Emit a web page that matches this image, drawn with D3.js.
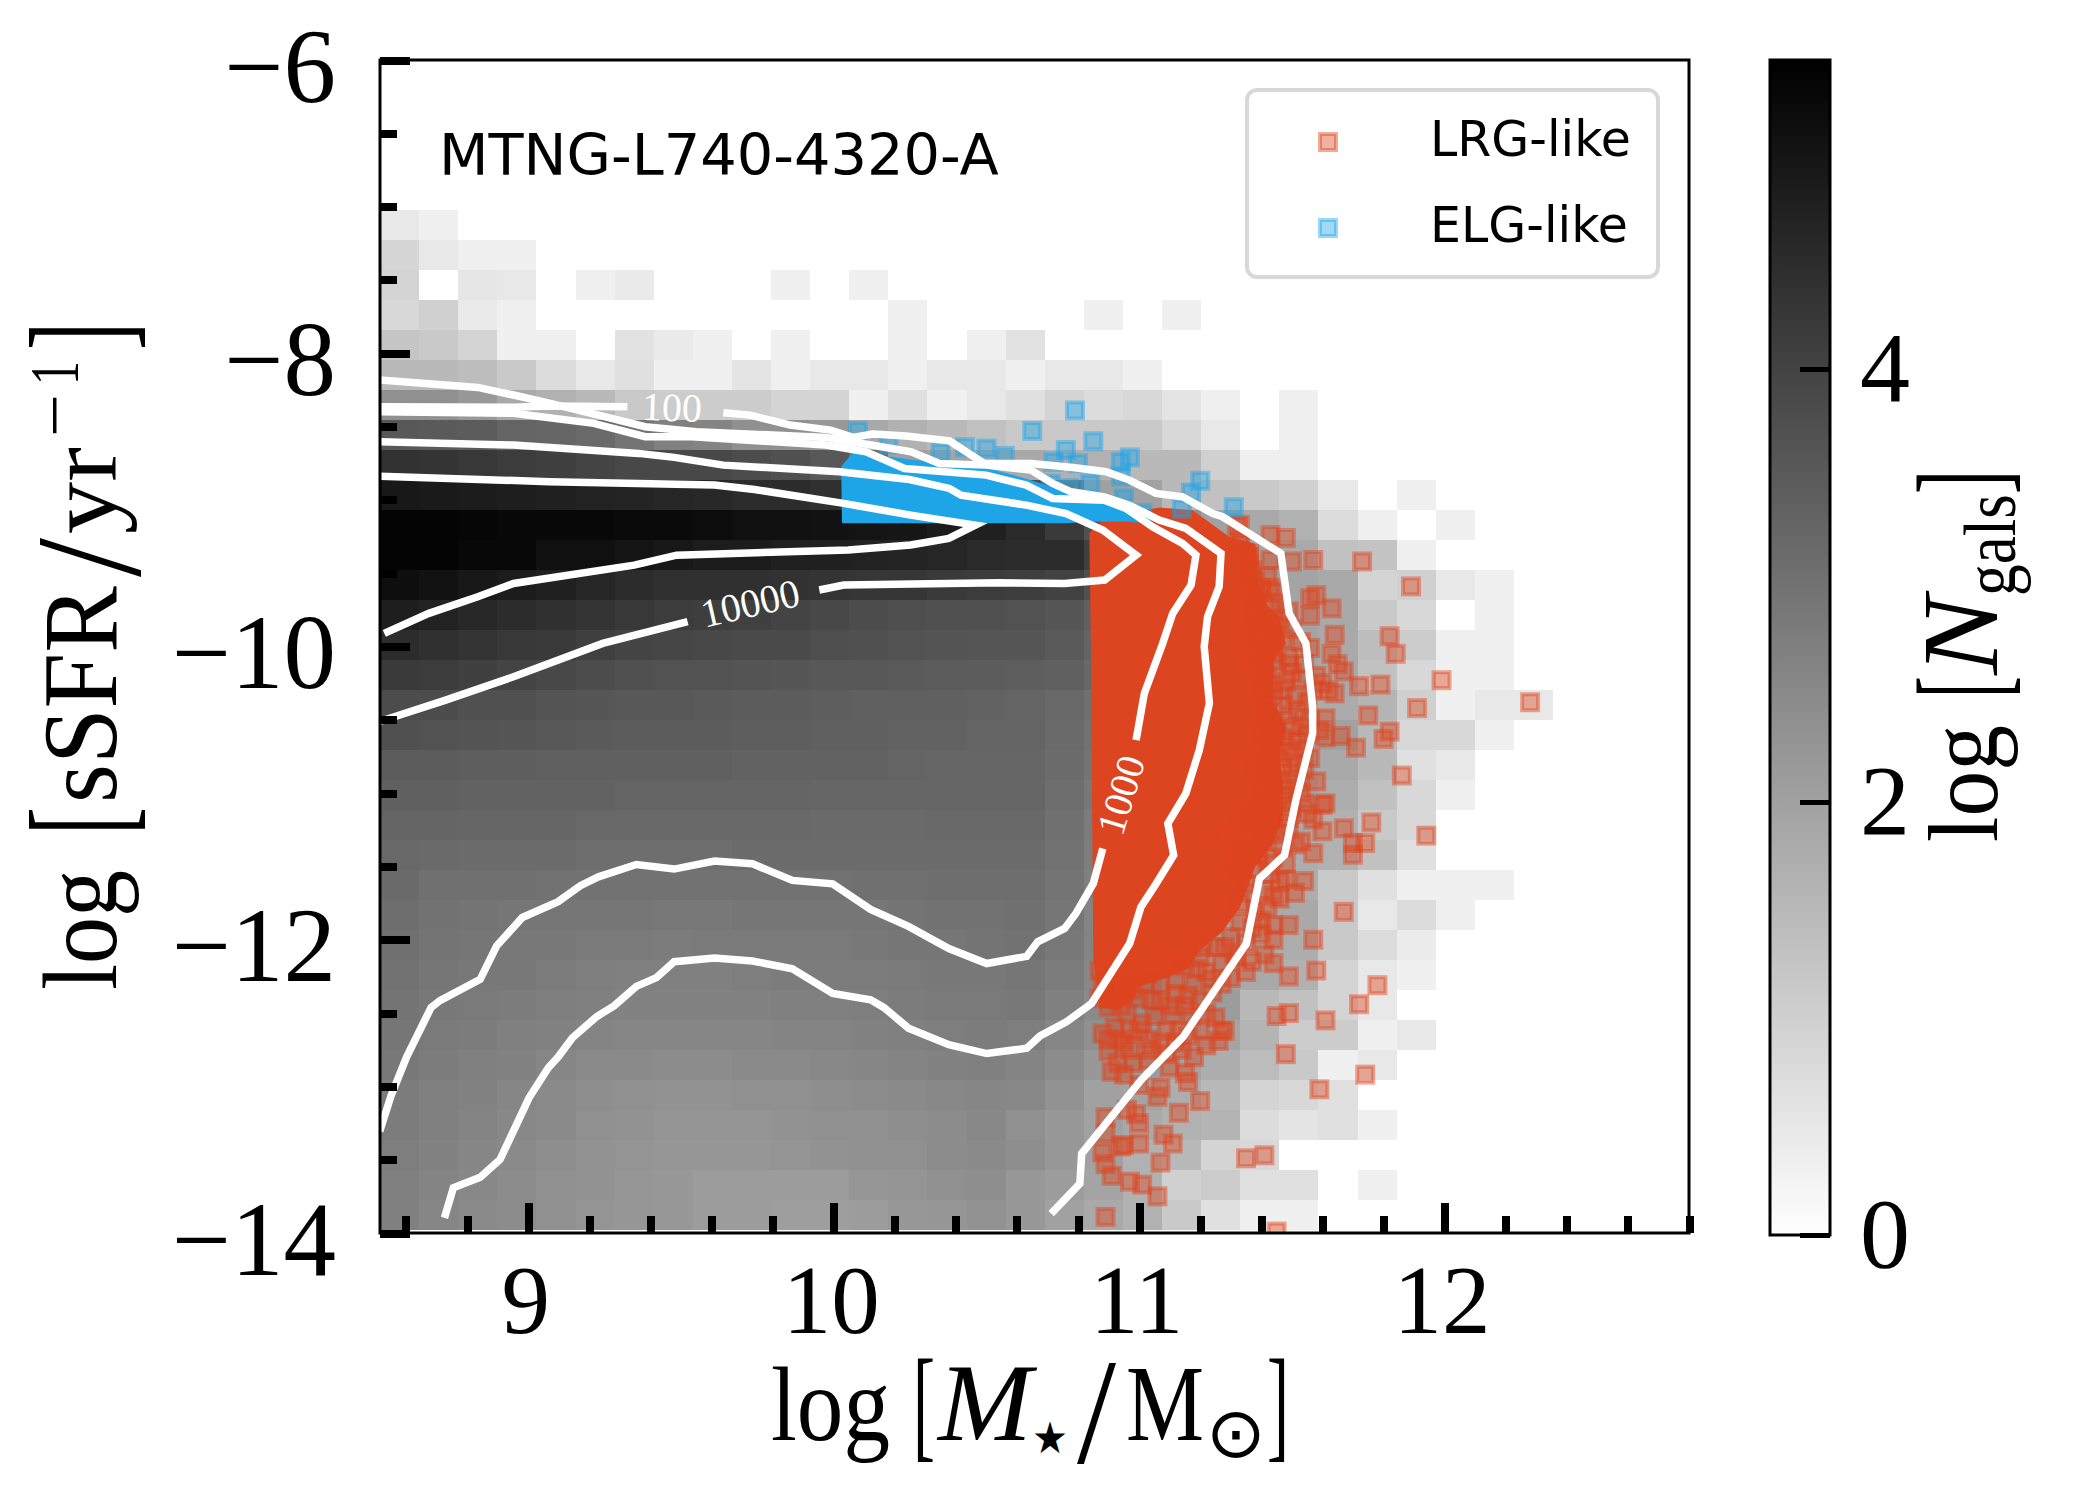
<!DOCTYPE html>
<html>
<head>
    <meta charset="utf-8">
    <script src="https://d3js.org/d3.v7.min.js"></script>
    <style>
        body { margin: 0; background: #fff; }
        text { font-family: "Liberation Serif", serif; fill: #000; }
        text.sans { font-family: "DejaVu Sans", sans-serif; }
        .tick line { stroke: #000; stroke-width: 8; shape-rendering: crispEdges; }
        path.domain { display: none; }
    </style>
</head>
<body>
    <div id="chart"></div>
    <script>
        // ---- data ----
        var simName = "MTNG-L740-4320-A";
        var legendNames = ["LRG-like", "ELG-like"];

        var xMajorTicks = [9, 10, 11, 12];
        var xMinorTicks = [8.6, 8.8, 9.2, 9.4, 9.6, 9.8, 10.2, 10.4, 10.6, 10.8, 11.2, 11.4, 11.6, 11.8, 12.2, 12.4, 12.6, 12.8];
        var yMajorTicks = [-6, -8, -10, -12, -14];
        var yMinorTicks = [-6.5, -7, -7.5, -8.5, -9, -9.5, -10.5, -11, -11.5, -12.5, -13, -13.5];
        var cbarTicks = [0, 2, 4];

        // histogram bins: left edge / top edge and bin widths
        var histX0 = 8.515, histDx = 0.128, histY0 = -7.023, histDy = 0.2046;

        // log N per bin, one row per sSFR bin from the top, 0 = empty
        var histRows = [
            [.49, .32],
            [.87, .49, .32, .32],
            [.92, 0, .53, .49, 0, .32, .45, 0, 0, 0, .32, 0, .32],
            [.83, 1.0, .45, .32, 0, 0, 0, 0, 0, 0, 0, 0, 0, .32, 0, 0, 0, 0, .32, 0, .32],
            [1.23, 1.15, .92, .32, .32, 0, .62, .45, .32, 0, .32, 0, 0, .32, 0, .32, .62],
            [1.49, 1.49, 1.4, 1.15, .75, .49, .66, .32, .32, .57, .32, .49, .49, .32, .49, .49, .32, .49, .49, .32],
            [2.36, 2.36, 2.19, 1.83, 1.66, 1.49, 1.15, 1.08, 1.08, 1.08, .92, .92, .32, .66, .32, .49, .66, .92, .75, .83, .57, .32, 0, .32],
            [3.56, 3.51, 3.47, 3.3, 3.26, 3.17, 2.96, 2.7, 2.62, 2.36, 2.36, 2.19, 1.83, 1.66, 1.49, 1.32, 1.15, 1.15, 1.15, 1.15, .83, .49, 0, .32],
            [4.37, 4.32, 4.24, 4.15, 4.07, 3.98, 3.9, 3.9, 3.9, 3.81, 3.73, 3.56, 3.05, 2.0, 1.93, 1.83, 1.83, 1.66, 1.66, 1.49, 1.49, 1.0, .32, .32],
            [4.92, 4.88, 4.83, 4.79, 4.75, 4.71, 4.66, 4.62, 4.58, 4.49, 4.49, 4.41, 4.41, 4.32, 4.24, 4.07, 3.73, 3.05, 2.0, 2.0, 1.49, 1.32, 1.15, 1.0, .49, 0, .32],
            [5.34, 5.34, 5.3, 5.26, 5.26, 5.26, 5.22, 5.22, 5.17, 5.09, 5.09, 5.05, 5.0, 4.96, 4.83, 4.75, 4.54, 4.19, 3.73, 3.05, 2.36, 2.0, 1.83, 1.66, .75, .32, 0, .32],
            [5.34, 5.34, 5.26, 5.26, 5.09, 5.09, 5.0, 4.92, 4.83, 4.83, 4.75, 4.75, 4.71, 4.66, 4.62, 4.54, 4.49, 4.49, 4.07, 3.39, 2.7, 2.19, 1.93, 1.83, 1.32, 1.25, .32],
            [5.13, 5.05, 4.92, 4.83, 4.75, 4.62, 4.49, 4.41, 4.41, 4.41, 4.37, 4.32, 4.28, 4.28, 4.19, 4.15, 4.11, 4.02, 3.73, 3.22, 2.7, 2.36, 2.0, 1.93, 1.83, .92, 1.0, .49, .32],
            [4.79, 4.71, 4.58, 4.49, 4.41, 4.32, 4.24, 4.15, 4.11, 4.07, 3.98, 3.9, 3.81, 3.77, 3.73, 3.73, 3.68, 3.6, 3.39, 3.05, 2.7, 2.36, 2.0, 1.93, 1.83, 1.15, .83, 0, .32],
            [4.49, 4.41, 4.32, 4.24, 4.19, 4.07, 3.98, 3.94, 3.9, 3.85, 3.85, 3.77, 3.73, 3.68, 3.64, 3.6, 3.6, 3.51, 3.3, 3.0, 2.62, 2.28, 2.0, 1.93, 1.83, 1.4, 1.08, .32, .32],
            [4.19, 4.15, 4.07, 3.98, 3.9, 3.81, 3.73, 3.68, 3.68, 3.64, 3.6, 3.56, 3.56, 3.51, 3.47, 3.47, 3.43, 3.39, 3.22, 2.96, 2.62, 2.28, 2.0, 1.93, 1.83, 1.32, .83, .32, .32],
            [3.81, 3.81, 3.73, 3.73, 3.64, 3.6, 3.56, 3.56, 3.51, 3.47, 3.47, 3.43, 3.39, 3.39, 3.39, 3.34, 3.3, 3.22, 3.05, 2.87, 2.53, 2.19, 2.0, 1.93, 1.79, 1.6, 1.0, .32, .49, .49],
            [3.73, 3.68, 3.64, 3.6, 3.56, 3.51, 3.47, 3.47, 3.47, 3.43, 3.43, 3.39, 3.39, 3.34, 3.34, 3.3, 3.3, 3.17, 3.0, 2.79, 2.49, 2.19, 2.0, 1.93, 2.0, 1.49, .83, .83, .32],
            [3.47, 3.47, 3.43, 3.43, 3.39, 3.39, 3.39, 3.39, 3.39, 3.34, 3.34, 3.34, 3.34, 3.3, 3.26, 3.26, 3.26, 3.13, 2.96, 2.7, 2.45, 2.19, 2.0, 1.93, 1.83, 1.49, .66, .49],
            [3.39, 3.39, 3.34, 3.34, 3.34, 3.34, 3.3, 3.3, 3.3, 3.3, 3.3, 3.26, 3.26, 3.26, 3.26, 3.26, 3.26, 3.09, 2.87, 2.62, 2.36, 2.19, 2.0, 1.93, 1.75, 1.32, .83, .32],
            [3.3, 3.3, 3.26, 3.26, 3.26, 3.22, 3.22, 3.22, 3.22, 3.22, 3.22, 3.17, 3.17, 3.17, 3.22, 3.22, 3.22, 3.05, 2.79, 2.53, 2.28, 2.0, 1.93, 1.83, 1.66, 1.15, .83],
            [3.22, 3.17, 3.13, 3.13, 3.13, 3.09, 3.09, 3.09, 3.09, 3.13, 3.13, 3.13, 3.13, 3.13, 3.13, 3.13, 3.13, 3.0, 2.75, 2.45, 2.19, 1.93, 1.83, 1.75, 1.66, 1.32, .66],
            [3.17, 3.05, 3.05, 3.05, 3.0, 3.0, 3.0, 3.0, 3.0, 3.0, 3.0, 3.0, 3.05, 3.05, 3.09, 3.09, 3.09, 2.96, 2.7, 2.36, 2.11, 1.93, 1.83, 1.75, 1.15, .66, .32, .32, .32],
            [3.09, 3.0, 2.96, 2.92, 2.92, 2.92, 2.92, 2.87, 2.87, 2.92, 2.92, 2.92, 2.92, 2.96, 3.0, 3.0, 3.05, 2.92, 2.62, 2.36, 2.11, 1.93, 1.83, 1.83, 1.15, .49, .75, .32],
            [3.05, 2.96, 2.92, 2.87, 2.87, 2.83, 2.83, 2.79, 2.83, 2.83, 2.83, 2.83, 2.87, 2.92, 2.92, 2.96, 3.0, 2.87, 2.62, 2.36, 2.19, 2.0, 1.83, 1.75, 1.15, .75, .4],
            [3.0, 2.92, 2.87, 2.87, 2.79, 2.75, 2.7, 2.7, 2.7, 2.75, 2.79, 2.79, 2.79, 2.83, 2.87, 2.87, 2.92, 2.79, 2.53, 2.45, 2.19, 2.0, 1.83, 1.66, .92, .49, .32],
            [2.96, 2.87, 2.83, 2.79, 2.75, 2.7, 2.66, 2.66, 2.66, 2.66, 2.7, 2.7, 2.75, 2.79, 2.83, 2.83, 2.87, 2.7, 2.49, 2.36, 2.19, 2.11, 1.49, 1.32, .92, .49],
            [2.92, 2.83, 2.79, 2.7, 2.66, 2.62, 2.58, 2.58, 2.58, 2.58, 2.62, 2.62, 2.66, 2.7, 2.75, 2.79, 2.75, 2.58, 2.36, 2.19, 2.0, 1.93, 1.6, 1.08, 1.08, .32, .49],
            [2.87, 2.79, 2.7, 2.66, 2.58, 2.49, 2.49, 2.45, 2.45, 2.49, 2.49, 2.53, 2.58, 2.62, 2.66, 2.7, 2.62, 2.45, 2.19, 2.11, 1.93, 1.75, 1.43, 1.15, .32, .49],
            [2.79, 2.7, 2.66, 2.58, 2.49, 2.41, 2.36, 2.32, 2.32, 2.36, 2.36, 2.41, 2.45, 2.49, 2.53, 2.58, 2.53, 2.32, 2.0, 1.93, 1.75, 1.49, .92, .83, .66],
            [2.79, 2.7, 2.62, 2.53, 2.49, 2.36, 2.32, 2.28, 2.28, 2.28, 2.32, 2.36, 2.36, 2.41, 2.45, 2.53, 2.36, 2.19, 2.0, 1.83, 1.66, 1.6, .75, .57, .66, .32],
            [2.75, 2.66, 2.58, 2.49, 2.41, 2.32, 2.28, 2.24, 2.24, 2.24, 2.28, 2.32, 2.36, 2.36, 2.45, 2.49, 2.41, 2.19, 2.0, 1.66, 1.49, .92, .83],
            [2.7, 2.62, 2.53, 2.45, 2.36, 2.32, 2.24, 2.19, 2.11, 2.11, 2.11, 2.11, 2.24, 2.28, 2.36, 2.41, 2.19, 2.11, 1.93, 1.66, 1.0, 1.08, .66, .66, 0, .32],
            [2.7, 2.58, 2.49, 2.45, 2.36, 2.28, 2.24, 2.19, 2.11, 2.11, 2.07, 2.07, 2.11, 2.19, 2.24, 2.32, 2.19, 2.0, 1.83, 1.66, 1.15, .66, .32, .32]
        ];

        // where the markers pile up into a solid patch
        var lrgDense = [[10.837, -9.228], [10.892, -9.115], [11.066, -9.052], [11.175, -9.07], [11.295, -9.252], [11.38, -9.3], [11.39, -9.55], [11.42, -9.72], [11.46, -9.8], [11.48, -9.98], [11.44, -10.1], [11.44, -10.37], [11.48, -10.55], [11.46, -10.73], [11.47, -10.95], [11.47, -11.16], [11.44, -11.34], [11.38, -11.5], [11.36, -11.62], [11.33, -11.78], [11.27, -11.95], [11.2, -12.07], [11.16, -12.2], [11.09, -12.26], [11.0, -12.32], [10.98, -12.42], [10.93, -12.48], [10.87, -12.46], [10.85, -12.12], [10.842, -10.0]];
        var elgDense = [[10.032, -9.15], [10.03, -8.774], [10.068, -8.683], [10.27, -8.74], [10.51, -8.797], [10.63, -8.865], [10.728, -8.933], [10.881, -9.002], [10.946, -9.059], [11.033, -9.138], [10.848, -9.138], [10.761, -9.15]];

        var lrgPoints = [
            [11.43, -9.24], [11.48, -9.26], [11.5, -9.42], [11.57, -9.41], [11.73, -9.42], [11.43, -9.41], [11.36, -9.39], [11.36, -9.44], [11.33, -9.3], [11.33, -9.17],
            [11.38, -9.55], [11.4, -9.6], [11.46, -9.7], [11.58, -9.65], [11.56, -9.67], [11.63, -9.74], [11.56, -9.79], [11.46, -9.82], [11.64, -9.92], [11.56, -10.01],
            [11.63, -10.05], [11.65, -10.12], [11.67, -10.17], [11.6, -10.25], [11.62, -10.3], [11.64, -10.32], [11.72, -10.27], [11.79, -10.26], [11.75, -10.47], [11.61, -10.49],
            [11.61, -10.62], [11.66, -10.61], [11.71, -10.69], [11.8, -10.63], [11.82, -10.58], [11.56, -10.76], [11.58, -10.92], [11.61, -11.07], [11.6, -11.08], [11.55, -11.14],
            [11.57, -11.18], [11.67, -11.24], [11.76, -11.2], [11.6, -11.26], [11.53, -11.33], [11.7, -11.34], [11.74, -11.34], [11.52, -10.43], [11.5, -10.18], [11.44, -10.26],
            [11.44, -10.34], [11.51, -10.34], [11.49, -10.07], [11.44, -10.05], [11.39, -10.04], [11.41, -10.15], [11.38, -9.8], [11.35, -9.89], [11.48, -10.68], [11.47, -10.82],
            [11.46, -10.91], [11.49, -10.98], [11.5, -10.55], [11.45, -10.59], [11.4, -10.59], [11.38, -10.82], [11.36, -11.12], [11.33, -11.18], [11.28, -11.28], [11.4, -11.23],
            [11.45, -11.28], [11.48, -11.05], [11.32, -9.18], [11.33, -9.3], [11.36, -9.37], [11.4, -9.62], [11.43, -9.6],
            [11.35, -11.62], [11.48, -11.59], [11.54, -11.6], [11.51, -11.68], [11.46, -11.72], [11.4, -11.87], [11.44, -11.9], [11.49, -11.9], [11.44, -12.0], [11.67, -11.81],
            [11.57, -12.0], [11.58, -12.21], [11.49, -12.25], [11.44, -12.16], [11.41, -12.1], [11.37, -12.15], [11.35, -12.22], [11.3, -12.26], [11.24, -12.36], [11.25, -12.53],
            [11.27, -12.62], [11.22, -12.72], [11.18, -12.8], [11.15, -12.91], [11.16, -12.97], [11.07, -13.01], [11.06, -13.07], [11.0, -12.99], [11.1, -12.87], [11.45, -12.52],
            [11.49, -12.5], [11.61, -12.55], [11.72, -12.44], [11.78, -12.31], [11.48, -12.78], [11.74, -12.92], [11.59, -13.02], [11.2, -13.1], [11.13, -13.18], [10.99, -13.19],
            [11.0, -13.25], [10.89, -13.21], [10.96, -13.16], [11.08, -13.33], [11.11, -13.39], [11.0, -13.39], [10.95, -13.4], [10.89, -13.32], [10.88, -12.64], [10.93, -12.84],
            [10.9, -12.76], [11.04, -12.75], [11.09, -12.62], [11.15, -12.45], [11.12, -12.37], [11.04, -12.41], [10.96, -12.5], [10.97, -12.62], [10.87, -12.21], [10.94, -12.29],
            [11.19, -12.2], [11.32, -12.12], [11.21, -12.05], [11.1, -12.14], [11.03, -12.23], [10.98, -12.34], [11.01, -12.57], [11.11, -12.51], [10.95, -12.71], [11.28, -12.62],
            [11.26, -12.69], [11.57, -11.41], [11.7, -11.42], [11.31, -11.46], [11.42, -11.48], [11.37, -11.43],
            [10.89, -13.89], [10.91, -13.61], [10.97, -13.65], [11.01, -13.67], [11.06, -13.75], [11.35, -13.49], [11.41, -13.47], [11.45, -13.99], [10.89, -13.53], [10.88, -13.45],
            [10.94, -13.41], [11.07, -13.52], [11.94, -11.29], [11.89, -9.59], [11.84, -10.05], [11.82, -9.93], [11.99, -10.23], [11.91, -10.42], [11.86, -10.88], [12.28, -10.38],
            // the crowded band right of the solid patch
            [11.37, -9.48], [11.42, -9.52], [11.35, -9.6], [11.45, -9.63], [11.39, -9.68], [11.43, -9.74], [11.49, -9.76], [11.38, -9.74], [11.44, -9.86], [11.5, -9.88],
            [11.4, -9.92], [11.47, -9.95], [11.53, -9.97], [11.43, -10.0], [11.49, -10.12], [11.54, -10.12], [11.45, -10.1], [11.37, -10.1], [11.42, -10.2], [11.53, -10.22],
            [11.48, -10.24], [11.58, -10.2], [11.4, -10.28], [11.47, -10.3], [11.57, -10.3], [11.41, -10.38], [11.47, -10.4], [11.55, -10.38], [11.42, -10.46], [11.49, -10.47],
            [11.56, -10.5], [11.44, -10.52], [11.53, -10.55], [11.43, -10.65], [11.52, -10.64], [11.47, -10.62], [11.55, -10.6], [11.59, -10.57], [11.44, -10.72], [11.5, -10.72],
            [11.54, -10.7], [11.42, -10.8], [11.46, -10.76], [11.52, -10.8], [11.41, -10.88], [11.5, -10.86], [11.54, -10.84], [11.44, -10.95], [11.52, -10.93], [11.4, -11.0],
            [11.47, -11.02], [11.53, -11.0], [11.42, -11.08], [11.5, -11.1], [11.54, -11.07], [11.44, -11.15], [11.49, -11.17], [11.38, -11.18], [11.43, -11.25], [11.49, -11.23],
            [11.36, -11.3], [11.41, -11.33], [11.47, -11.36], [11.51, -11.35], [11.34, -11.38], [11.39, -11.42], [11.44, -11.44], [11.48, -11.48], [11.33, -11.52], [11.38, -11.52],
            [11.43, -11.55], [11.46, -11.6], [11.36, -11.68], [11.41, -11.66], [11.44, -11.7], [11.33, -11.75], [11.38, -11.8], [11.42, -11.78], [11.33, -11.88], [11.37, -11.92],
            [11.4, -11.96], [11.3, -11.98], [11.35, -12.02], [11.28, -12.05], [11.31, -12.1],
            // and the clump under it
            [11.25, -12.05], [11.2, -12.12], [11.27, -12.16], [11.22, -12.22], [11.15, -12.18], [11.12, -12.28], [11.18, -12.3], [11.24, -12.27], [11.27, -12.3], [11.07, -12.3],
            [11.02, -12.3], [11.0, -12.4], [10.93, -12.37], [10.88, -12.3], [10.87, -12.4], [10.9, -12.46], [10.94, -12.45], [11.07, -12.42], [11.1, -12.45], [11.16, -12.38],
            [11.2, -12.42], [11.22, -12.5], [11.17, -12.52], [11.05, -12.52], [11.0, -12.62], [10.92, -12.6], [10.94, -12.68], [11.03, -12.68], [11.07, -12.7], [11.13, -12.62],
            [11.16, -12.66], [11.2, -12.62], [11.14, -12.75], [11.09, -12.78], [10.97, -12.75], [10.9, -12.68], [10.98, -12.84], [11.12, -12.7], [11.03, -12.82], [10.91, -12.9],
            [10.95, -12.92]
        ];

        var elgPoints = [
            [10.08, -8.53], [10.65, -8.53], [10.43, -8.64], [10.5, -8.65], [10.56, -8.7], [10.35, -8.68], [10.72, -8.74], [10.76, -8.66], [10.8, -8.75], [10.85, -8.6],
            [10.94, -8.74], [10.97, -8.71], [10.94, -8.84], [10.84, -8.89], [10.77, -8.92], [10.71, -8.89], [11.2, -8.87], [11.17, -8.95], [11.31, -9.05], [11.14, -9.06],
            [10.95, -8.99], [10.87, -9.08], [10.94, -9.06], [11.01, -9.09], [10.18, -8.62], [10.79, -8.39]
        ];

        // contour lines, broken where the inline labels sit
        var contourSegments = [
            // 100, upper branch
            [[8.514, -8.365], [8.952, -8.369], [9.069, -8.36], [9.325, -8.365]],
            [[9.639, -8.406], [9.727, -8.422], [9.858, -8.49], [9.99, -8.524], [10.063, -8.574], [10.128, -8.551], [10.237, -8.565], [10.379, -8.597], [10.493, -8.752], [10.646, -8.752], [10.783, -8.779], [10.892, -8.808], [10.968, -8.865], [11.055, -8.956], [11.142, -8.979], [11.241, -9.093], [11.273, -9.115], [11.464, -9.365], [11.491, -9.774], [11.546, -9.979], [11.568, -10.411], [11.568, -10.593], [11.513, -11.048], [11.476, -11.423], [11.394, -11.582], [11.351, -12.026], [11.144, -12.662], [11.006, -12.958], [10.812, -13.458], [10.806, -13.663], [10.712, -13.868]],
            // second level, goes round the lower hump
            [[8.514, -8.183], [8.835, -8.233], [8.952, -8.285], [9.062, -8.337], [9.23, -8.422], [9.383, -8.501], [9.551, -8.535], [9.975, -8.574], [10.019, -8.592], [10.128, -8.627], [10.254, -8.672], [10.346, -8.752], [10.499, -8.763], [10.646, -8.797], [10.717, -8.888], [10.777, -8.945], [10.886, -8.979], [10.968, -9.036], [11.066, -9.138], [11.153, -9.195], [11.268, -9.365], [11.262, -9.592], [11.224, -9.797], [11.213, -10.001], [11.23, -10.388], [11.197, -10.706], [11.153, -11.002], [11.094, -11.207], [11.113, -11.423], [11.056, -11.616], [11.006, -11.776], [10.969, -12.026], [10.844, -12.435], [10.762, -12.56], [10.676, -12.656], [10.632, -12.74], [10.501, -12.776], [10.377, -12.716], [10.245, -12.603], [10.165, -12.463], [10.121, -12.41], [9.997, -12.366], [9.865, -12.198], [9.734, -12.145], [9.61, -12.125], [9.478, -12.15], [9.42, -12.258], [9.354, -12.318], [9.281, -12.451], [9.225, -12.523], [9.145, -12.668], [9.098, -12.8], [9.066, -12.873], [9.003, -13.078], [8.908, -13.499], [8.843, -13.62], [8.755, -13.692], [8.726, -13.897]],
            // 1000
            [[8.514, -8.399], [8.952, -8.41], [9.215, -8.478], [9.383, -8.569], [9.537, -8.569], [9.975, -8.626], [10.106, -8.672], [10.232, -8.786], [10.499, -8.831], [10.63, -8.899], [10.717, -8.99], [10.886, -9.002], [10.957, -9.059], [11.044, -9.184], [11.142, -9.297], [11.186, -9.376], [11.17, -9.581], [11.11, -9.774], [11.077, -9.979], [11.017, -10.32], [10.99, -10.638]],
            [[10.881, -11.378], [10.85, -11.616], [10.793, -11.821], [10.756, -11.923], [10.668, -12.014], [10.632, -12.113], [10.501, -12.162], [10.377, -12.06], [10.245, -11.909], [10.121, -11.793], [9.997, -11.619], [9.865, -11.595], [9.734, -11.482], [9.61, -11.463], [9.478, -11.518], [9.354, -11.487], [9.23, -11.571], [9.171, -11.631], [9.098, -11.74], [8.981, -11.848], [8.897, -12.041], [8.843, -12.27], [8.711, -12.415], [8.682, -12.463], [8.602, -12.8], [8.551, -13.065], [8.514, -13.306]],
            // 10000
            [[8.514, -8.603], [8.952, -8.626], [9.361, -8.683], [9.478, -8.71], [9.639, -8.763], [10.019, -8.808], [10.248, -8.861], [10.379, -8.922], [10.417, -8.968], [10.63, -9.036], [10.761, -9.093], [10.881, -9.206], [10.99, -9.377], [10.887, -9.547], [10.756, -9.57], [10.543, -9.565], [10.033, -9.581], [9.953, -9.615]],
            [[9.522, -9.831], [9.244, -9.979], [8.952, -10.206], [8.73, -10.366], [8.514, -10.511]],
            // innermost level
            [[8.514, -8.838], [9.069, -8.876], [9.61, -8.899], [9.741, -8.929], [10.033, -9.024], [10.252, -9.104], [10.464, -9.172], [10.377, -9.263], [10.252, -9.308], [10.048, -9.342], [9.486, -9.377], [9.347, -9.445], [8.952, -9.57], [8.835, -9.661], [8.675, -9.774], [8.529, -9.911]]
        ];

        var contourLabels = [
            { text: "100", x: 9.471, y: -8.37, angle: 2 },
            { text: "10000", x: 9.727, y: -9.706, angle: -13 },
            { text: "1000", x: 10.941, y: -11.013, angle: -73 }
        ];

        // ---- setup ----
        var width = 2100, height = 1500;
        var lrgColour = "#DD4420", elgColour = "#1EA5E8";
        var logNmax = 5.43;

        var svg = d3.select("#chart").append("svg")
            .attr("width", width)
            .attr("height", height);

        var x = d3.scaleLinear().domain([8.515, 12.8]).range([380, 1689]);
        var y = d3.scaleLinear().domain([-6, -14]).range([60, 1233]);
        var grey = d3.scaleLinear().domain([0, logNmax]).range(["#ffffff", "#000000"]);
        var cbarY = d3.scaleLinear().domain([0, logNmax]).range([1235, 60]);

        svg.append("clipPath").attr("id", "plotClip")
            .append("rect")
            .attr("x", x.range()[0]).attr("y", y.range()[0])
            .attr("width", x.range()[1] - x.range()[0])
            .attr("height", y.range()[1] - y.range()[0]);

        var plot = svg.append("g").attr("clip-path", "url(#plotClip)");

        // 2d histogram
        var cells = [];
        histRows.forEach(function(row, i) {
            row.forEach(function(v, k) {
                if (v > 0) cells.push({ i: i, k: k, v: v });
            });
        });

        plot.append("g").selectAll("rect")
            .data(cells)
            .enter()
            .append("rect")
            .attr("x", d => x(histX0 + d.k * histDx))
            .attr("y", d => y(histY0 - d.i * histDy))
            .attr("width", x(histX0 + histDx) - x(histX0))
            .attr("height", y(histY0 - histDy) - y(histY0))
            .attr("fill", d => grey(d.v))
            .attr("shape-rendering", "crispEdges");

        // selected galaxies
        var patch = d3.line().x(d => x(d[0])).y(d => y(d[1])).curve(d3.curveLinearClosed);

        function drawPoints(points, colour) {
            plot.append("g").selectAll("rect")
                .data(points)
                .enter()
                .append("rect")
                .attr("x", d => x(d[0]) - 8)
                .attr("y", d => y(d[1]) - 8)
                .attr("width", 16)
                .attr("height", 16)
                .attr("fill", colour)
                .attr("fill-opacity", 0.42)
                .attr("stroke", colour)
                .attr("stroke-opacity", 0.45)
                .attr("stroke-width", 4);
        }

        plot.append("path").attr("d", patch(lrgDense)).attr("fill", lrgColour);
        drawPoints(lrgPoints, lrgColour);
        plot.append("path").attr("d", patch(elgDense)).attr("fill", elgColour)
            .attr("stroke", elgColour).attr("stroke-width", 3).attr("stroke-linejoin", "round");
        drawPoints(elgPoints, elgColour);

        // contours
        var contourLine = d3.line().x(d => x(d[0])).y(d => y(d[1]));

        plot.append("g").selectAll("path")
            .data(contourSegments)
            .enter()
            .append("path")
            .attr("d", contourLine)
            .attr("fill", "none")
            .attr("stroke", "#fff")
            .attr("stroke-width", 7.5)
            .attr("stroke-linejoin", "miter");

        svg.append("g").selectAll("text")
            .data(contourLabels)
            .enter()
            .append("text")
            .attr("transform", d => `translate(${x(d.x)},${y(d.y)}) rotate(${d.angle})`)
            .attr("text-anchor", "middle")
            .attr("dominant-baseline", "central")
            .style("font-size", "40px")
            .style("fill", "#fff")
            .text(d => d.text);

        // spines
        svg.append("rect")
            .attr("x", x.range()[0]).attr("y", y.range()[0])
            .attr("width", x.range()[1] - x.range()[0])
            .attr("height", y.range()[1] - y.range()[0])
            .attr("fill", "none")
            .attr("stroke", "#000")
            .attr("stroke-width", 3);

        // axes, ticks point inwards
        var bottomAxis = svg.append("g")
            .attr("transform", `translate(0,${y.range()[1]})`)
            .call(d3.axisBottom(x).tickValues(xMajorTicks).tickSizeInner(-30).tickSizeOuter(0).tickFormat(d => d));
        bottomAxis.selectAll("text")
            .attr("y", 100).attr("dy", 0)
            .attr("dx", -3)
            .style("font-size", "97px")
            .style("font-family", '"Liberation Serif", serif');

        svg.append("g")
            .attr("transform", `translate(0,${y.range()[1]})`)
            .call(d3.axisBottom(x).tickValues(xMinorTicks).tickSizeInner(-17).tickSizeOuter(0).tickFormat(""));

        var leftAxis = svg.append("g")
            .attr("transform", `translate(${x.range()[0]},0)`)
            .call(d3.axisLeft(y).tickValues(yMajorTicks).tickSizeInner(-30).tickSizeOuter(0).tickFormat(d => "\u2212" + Math.abs(d)));
        leftAxis.selectAll("text")
            .attr("x", -44).attr("y", 41).attr("dy", 0)
            .style("font-size", "105px")
            .style("font-family", '"Liberation Serif", serif');

        svg.append("g")
            .attr("transform", `translate(${x.range()[0]},0)`)
            .call(d3.axisLeft(y).tickValues(yMinorTicks).tickSizeInner(-17).tickSizeOuter(0).tickFormat(""));

        // axis labels are put together piece by piece, there is no tex here
        function mathLabel(tx, ty, angle, pieces) {
            var g = svg.append("g").attr("transform", `translate(${tx},${ty}) rotate(${angle})`);
            pieces.forEach(function(p) {
                var t = g.append("text")
                    .attr("x", p.at)
                    .attr("y", p.shift || 0)
                    .style("font-size", p.size + "px")
                    .style("font-style", p.italic ? "italic" : "normal")
                    .text(p.s);
                if (p.sans) t.attr("class", "sans");
                if (p.w) t.attr("textLength", p.w).attr("lengthAdjust", "spacingAndGlyphs");
            });
        }

        mathLabel(771, 1440, 0, [
            { s: "log", at: 0, w: 119, size: 105 },
            { s: "[", at: 142, w: 22, size: 125, shift: 5 },
            { s: "M", at: 167, w: 94, size: 110, italic: true },
            { s: "\u2605", at: 261, w: 36, size: 44, sans: true, shift: 13 },
            { s: "/", at: 306, w: 39, size: 150, shift: 23 },
            { s: "M", at: 355, w: 78, size: 108 },
            { s: "\u2299", at: 435, w: 60, size: 70, sans: true, shift: 17 },
            { s: "]", at: 496, w: 22, size: 125, shift: 5 }
        ]);

        mathLabel(116, 990, -90, [
            { s: "log", at: 0, w: 120, size: 105 },
            { s: "[", at: 155, w: 28, size: 140, shift: 10 },
            { s: "sSFR", at: 187, w: 217, size: 105 },
            { s: "/", at: 413, w: 39, size: 150, shift: 24 },
            { s: "yr", at: 456, w: 87, size: 100 },
            { s: "\u2212", at: 553, w: 43, size: 70, shift: -38 },
            { s: "1", at: 605, w: 24, size: 70, shift: -38 },
            { s: "]", at: 640, w: 28, size: 140, shift: 10 }
        ]);

        mathLabel(1997, 842, -90, [
            { s: "log", at: 0, w: 117, size: 100 },
            { s: "[", at: 144, w: 22, size: 125, shift: 6 },
            { s: "N", at: 167, w: 79, size: 108, italic: true },
            { s: "gals", at: 246, w: 102, size: 75, shift: 18 },
            { s: "]", at: 348, w: 24, size: 125, shift: 6 }
        ]);

        // simulation name and legend
        svg.append("text")
            .attr("class", "sans")
            .attr("x", 439).attr("y", 175)
            .style("font-size", "57.4px")
            .text(simName);

        svg.append("rect")
            .attr("x", 1247).attr("y", 90)
            .attr("width", 411).attr("height", 187)
            .attr("rx", 10)
            .attr("fill", "#fff")
            .attr("fill-opacity", 0.85)
            .attr("stroke", "#d8d8d8")
            .attr("stroke-width", 4);

        var legendColours = [lrgColour, elgColour];
        var legendRows = svg.append("g").selectAll("g")
            .data(legendNames)
            .enter()
            .append("g")
            .attr("transform", (d, i) => `translate(0,${i * 86})`);

        legendRows.append("rect")
            .attr("x", 1320).attr("y", 134)
            .attr("width", 16).attr("height", 16)
            .attr("fill", (d, i) => legendColours[i])
            .attr("fill-opacity", 0.42)
            .attr("stroke", (d, i) => legendColours[i])
            .attr("stroke-opacity", 0.45)
            .attr("stroke-width", 4);

        legendRows.append("text")
            .attr("class", "sans")
            .attr("x", 1430).attr("y", 156)
            .style("font-size", "49px")
            .text(d => d);

        // colour bar
        var cbarLeft = 1770, cbarRight = 1830;
        var gradient = svg.append("defs").append("linearGradient")
            .attr("id", "cbarGradient")
            .attr("x1", 0).attr("x2", 0).attr("y1", 1).attr("y2", 0);
        gradient.append("stop").attr("offset", 0).attr("stop-color", grey(0));
        gradient.append("stop").attr("offset", 1).attr("stop-color", grey(logNmax));

        svg.append("rect")
            .attr("x", cbarLeft).attr("y", cbarY.range()[1])
            .attr("width", cbarRight - cbarLeft)
            .attr("height", cbarY.range()[0] - cbarY.range()[1])
            .attr("fill", "url(#cbarGradient)")
            .attr("stroke", "#000")
            .attr("stroke-width", 3);

        var cbarAxis = svg.append("g")
            .attr("class", "cbar")
            .attr("transform", `translate(${cbarRight},0)`)
            .call(d3.axisRight(cbarY).tickValues(cbarTicks).tickSizeInner(-30).tickSizeOuter(0).tickFormat(d => d));
        cbarAxis.selectAll("line").style("stroke-width", 5);
        cbarAxis.selectAll("text")
            .attr("x", 30).attr("y", 31).attr("dy", 0)
            .style("font-size", "100px")
            .style("font-family", '"Liberation Serif", serif');
    </script>
</body>
</html>
